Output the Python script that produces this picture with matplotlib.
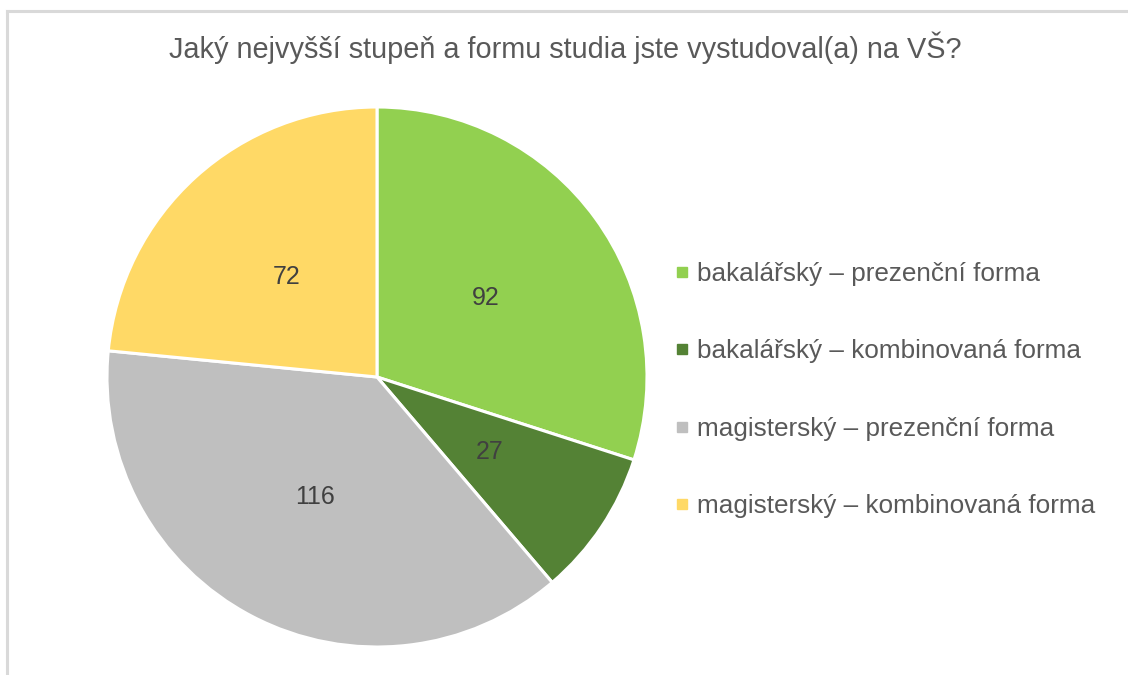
import matplotlib
matplotlib.use("Agg")
import matplotlib.pyplot as plt
from matplotlib.lines import Line2D

# data
categories = [
    "bakalářský – prezenční forma",
    "bakalářský – kombinovaná forma",
    "magisterský – prezenční forma",
    "magisterský – kombinovaná forma",
]
values = [92, 27, 116, 72]
colors = ["#92D050", "#548235", "#BFBFBF", "#FFD966"]
title = "Jaký nejvyšší stupeň a formu studia jste vystudoval(a) na VŠ?"

TEXT = "#595959"
plt.rcParams["font.family"] = ["Liberation Sans", "DejaVu Sans"]

fig = plt.figure(figsize=(11.28, 6.75), dpi=100)
fig.patch.set_facecolor("white")

# chart border (top and left visible)
fig.add_artist(Line2D([7 / 1128, 7 / 1128], [0, 1 - 11 / 675], color="#D9D9D9", lw=2.2))
fig.add_artist(Line2D([7 / 1128, 1], [1 - 11 / 675, 1 - 11 / 675], color="#D9D9D9", lw=2.2))

ax = fig.add_axes([107 / 1128, 28 / 675, 540 / 1128, 540 / 675])
total = sum(values)
wedges, _, autotexts = ax.pie(
    values,
    colors=colors,
    startangle=90,
    counterclock=False,
    autopct=lambda p: f"{round(p * total / 100):d}",
    pctdistance=0.5,
    wedgeprops=dict(edgecolor="white", linewidth=2.2),
    textprops=dict(color="#404040", fontsize=18),
)
ax.set_xlim(-1, 1)
ax.set_ylim(-1, 1)

fig.text(565 / 1128, 1 - 48 / 675, title, ha="center", va="center",
         fontsize=20.8, color=TEXT)

handles = [Line2D([], [], marker="s", linestyle="none", markersize=7,
                  markerfacecolor=c, markeredgecolor=c) for c in colors]
fig.legend(handles, categories, loc="center left",
           bbox_to_anchor=(675 / 1128, 1 - 390 / 675),
           frameon=False, fontsize=18.8, labelcolor=TEXT,
           handlelength=0.5, handletextpad=0.35, labelspacing=2.05,
           borderpad=0, borderaxespad=0)

fig.savefig("out.png", dpi=100, facecolor="white")
